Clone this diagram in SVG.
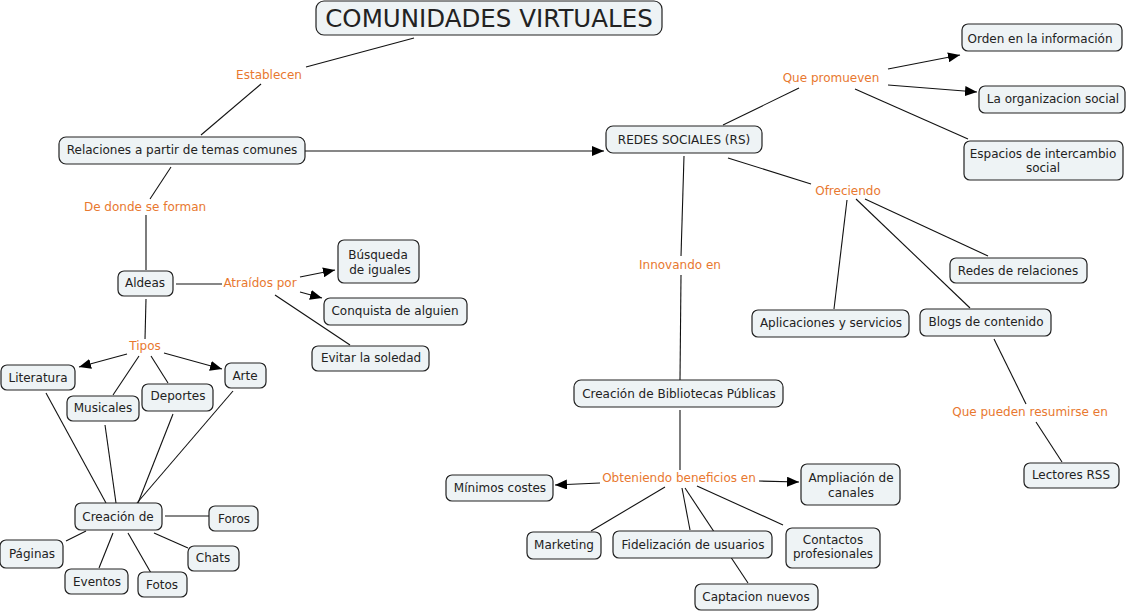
<svg xmlns="http://www.w3.org/2000/svg" width="1129" height="614" viewBox="0 0 1129 614">
<defs>
<marker id="arr" markerUnits="userSpaceOnUse" markerWidth="13" markerHeight="10" refX="12" refY="5" orient="auto">
<path d="M0,0 L12,5 L0,10 z" fill="#000"/>
</marker>
<style>
.n rect{fill:#EEF3F5;stroke:#222;stroke-width:1.2}
.n text{font-family:"DejaVu Sans",Verdana,sans-serif;font-size:12px;fill:#222;text-anchor:middle}
.l{font-family:"DejaVu Sans",Verdana,sans-serif;font-size:12px;fill:#E8782F;text-anchor:middle}
#connectors line{stroke:#111;stroke-width:1.1}
#connectors line.a{marker-end:url(#arr)}
</style>
</defs>
<rect width="1129" height="614" fill="#fff"/>
<g id="connectors">
<line x1="414" y1="38" x2="306" y2="67"/>
<line x1="261" y1="84" x2="201" y2="135"/>
<line x1="171" y1="167" x2="150" y2="199"/>
<line x1="146" y1="215" x2="146" y2="270"/>
<line x1="176" y1="284" x2="222" y2="284"/>
<line class="a" x1="300" y1="277" x2="335" y2="270"/>
<line class="a" x1="300" y1="292" x2="322" y2="298"/>
<line x1="275" y1="295" x2="350" y2="345"/>
<line x1="146" y1="299" x2="145" y2="339"/>
<line class="a" x1="127" y1="354" x2="79" y2="367"/>
<line class="a" x1="164" y1="353" x2="222" y2="369"/>
<line x1="139" y1="356" x2="113" y2="395"/>
<line x1="151" y1="356" x2="168" y2="383"/>
<line x1="46" y1="393" x2="106" y2="503"/>
<line x1="105" y1="425" x2="116" y2="503"/>
<line x1="173" y1="414" x2="138" y2="503"/>
<line x1="233" y1="391" x2="137" y2="503"/>
<line x1="165" y1="516" x2="209" y2="516"/>
<line x1="154" y1="533" x2="188" y2="548"/>
<line x1="128" y1="533" x2="151" y2="573"/>
<line x1="113" y1="533" x2="99" y2="568"/>
<line x1="86" y1="531" x2="66" y2="541"/>
<line class="a" x1="305" y1="151" x2="604" y2="151"/>
<line x1="723" y1="125" x2="799" y2="88"/>
<line class="a" x1="888" y1="69" x2="960" y2="55"/>
<line class="a" x1="888" y1="85" x2="977" y2="92"/>
<line x1="855" y1="89" x2="968" y2="139"/>
<line x1="728" y1="158" x2="811" y2="184"/>
<line x1="847" y1="200" x2="834" y2="309"/>
<line x1="856" y1="199" x2="970" y2="308"/>
<line x1="865" y1="199" x2="988" y2="256"/>
<line x1="994" y1="339" x2="1026" y2="404"/>
<line x1="1036" y1="422" x2="1062" y2="462"/>
<line x1="684" y1="156" x2="681" y2="256"/>
<line x1="681" y1="275" x2="680" y2="380"/>
<line x1="680" y1="410" x2="680" y2="470"/>
<line class="a" x1="600" y1="483" x2="555" y2="485"/>
<line class="a" x1="759" y1="481" x2="799" y2="482"/>
<line x1="665" y1="487" x2="591" y2="531"/>
<line x1="682" y1="488" x2="690" y2="530"/>
<line x1="685" y1="488" x2="748" y2="583"/>
<line x1="697" y1="486" x2="783" y2="525"/>
</g>
<g id="labels">
<text class="l" x="269" y="79">Establecen</text>
<text class="l" x="145" y="211">De donde se forman</text>
<text class="l" x="260" y="287">Atraídos por</text>
<text class="l" x="145" y="350">Tipos</text>
<text class="l" x="831" y="82">Que promueven</text>
<text class="l" x="848" y="195">Ofreciendo</text>
<text class="l" x="680" y="269">Innovando en</text>
<text class="l" x="1030" y="416">Que pueden resumirse en</text>
<text class="l" x="679" y="482">Obteniendo beneficios en</text>
</g>
<g id="title" class="n"><rect x="316" y="1" width="346" height="34" rx="8"/><text x="489" y="27" style="font-size:24.5px">COMUNIDADES VIRTUALES</text></g>
<g id="relaciones" class="n"><rect x="59" y="137" width="246" height="27" rx="7"/><text x="182" y="154">Relaciones a partir de temas comunes</text></g>
<g id="aldeas" class="n"><rect x="118" y="271" width="55" height="25" rx="6"/><text x="145" y="287">Aldeas</text></g>
<g id="busqueda" class="n"><rect x="338" y="240" width="81" height="43" rx="6"/><text x="378" y="259">Búsqueda</text><text x="380" y="274">de iguales</text></g>
<g id="conquista" class="n"><rect x="324" y="298" width="143" height="27" rx="6"/><text x="395" y="315">Conquista de alguien</text></g>
<g id="evitar" class="n"><rect x="312" y="346" width="117" height="25" rx="6"/><text x="371" y="362">Evitar la soledad</text></g>
<g id="literatura" class="n"><rect x="1" y="365" width="74" height="25" rx="6"/><text x="38" y="382">Literatura</text></g>
<g id="arte" class="n"><rect x="225" y="363" width="41" height="25" rx="6"/><text x="245" y="380">Arte</text></g>
<g id="musicales" class="n"><rect x="67" y="396" width="72" height="25" rx="6"/><text x="103" y="412">Musicales</text></g>
<g id="deportes" class="n"><rect x="142" y="384" width="71" height="27" rx="6"/><text x="178" y="400">Deportes</text></g>
<g id="creacion" class="n"><rect x="75" y="503" width="87" height="27" rx="6"/><text x="118" y="521">Creación de</text></g>
<g id="foros" class="n"><rect x="209" y="506" width="49" height="25" rx="6"/><text x="234" y="523">Foros</text></g>
<g id="chats" class="n"><rect x="188" y="546" width="51" height="25" rx="6"/><text x="213" y="562">Chats</text></g>
<g id="fotos" class="n"><rect x="138" y="572" width="49" height="25" rx="6"/><text x="162" y="589">Fotos</text></g>
<g id="eventos" class="n"><rect x="65" y="569" width="63" height="25" rx="6"/><text x="97" y="586">Eventos</text></g>
<g id="paginas" class="n"><rect x="0" y="540" width="63" height="28" rx="6"/><text x="32" y="558">Páginas</text></g>
<g id="redes" class="n"><rect x="606" y="126" width="156" height="27" rx="7"/><text x="684" y="144">REDES SOCIALES (RS)</text></g>
<g id="orden" class="n"><rect x="962" y="24" width="160" height="27" rx="6"/><text x="1040" y="43">Orden en la información</text></g>
<g id="organizacion" class="n"><rect x="979" y="86" width="146" height="27" rx="6"/><text x="1053" y="103">La organizacion social</text></g>
<g id="espacios" class="n"><rect x="964" y="141" width="159" height="39" rx="6"/><text x="1043" y="158">Espacios de intercambio</text><text x="1043" y="172">social</text></g>
<g id="aplicaciones" class="n"><rect x="752" y="310" width="157" height="27" rx="6"/><text x="831" y="327">Aplicaciones y servicios</text></g>
<g id="blogs" class="n"><rect x="920" y="309" width="131" height="27" rx="6"/><text x="986" y="326">Blogs de contenido</text></g>
<g id="redesrel" class="n"><rect x="950" y="258" width="137" height="25" rx="6"/><text x="1018" y="275">Redes de relaciones</text></g>
<g id="lectores" class="n"><rect x="1024" y="463" width="95" height="25" rx="6"/><text x="1071" y="479">Lectores RSS</text></g>
<g id="bibliotecas" class="n"><rect x="574" y="380" width="209" height="27" rx="7"/><text x="679" y="398">Creación de Bibliotecas Públicas</text></g>
<g id="minimos" class="n"><rect x="446" y="475" width="107" height="26" rx="6"/><text x="500" y="492">Mínimos costes</text></g>
<g id="ampliacion" class="n"><rect x="801" y="464" width="99" height="41" rx="6"/><text x="851" y="482">Ampliación de</text><text x="851" y="497">canales</text></g>
<g id="marketing" class="n"><rect x="527" y="532" width="74" height="27" rx="6"/><text x="564" y="549">Marketing</text></g>
<g id="fidelizacion" class="n"><rect x="613" y="531" width="159" height="27" rx="6"/><text x="693" y="549">Fidelización de usuarios</text></g>
<g id="captacion" class="n"><rect x="695" y="584" width="123" height="26" rx="6"/><text x="756" y="601">Captacion nuevos</text></g>
<g id="contactos" class="n"><rect x="786" y="528" width="94" height="40" rx="6"/><text x="833" y="544">Contactos</text><text x="833" y="558">profesionales</text></g>
</svg>
